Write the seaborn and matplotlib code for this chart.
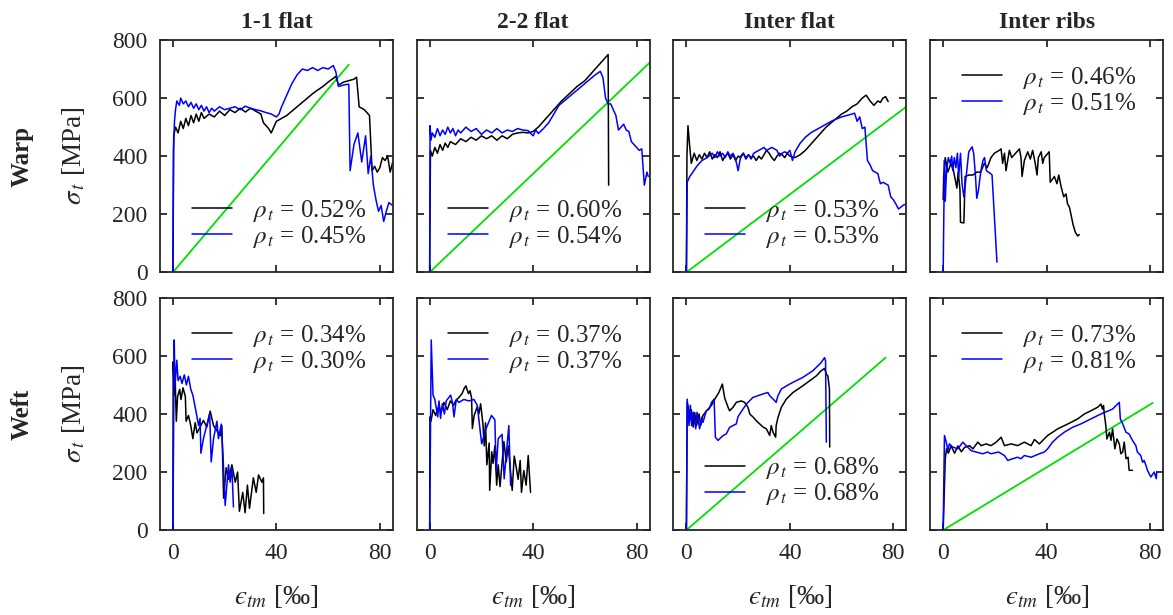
"""Tensile stress-strain curves of textile reinforcement: warp / weft, four yarn positions."""
import matplotlib
matplotlib.use("Agg")

import matplotlib.pyplot as plt
import numpy as np
import pandas as pd
import seaborn as sns

COLUMNS = ["1-1 flat", "2-2 flat", "Inter flat", "Inter ribs"]
ROWS = ["Warp", "Weft"]
X_TICKS = [0, 40, 80]
Y_TICKS = [0, 200, 400, 600, 800]

# ---------------------------------------------------------------------------
# Curves, (strain [permille], stress [MPa])
# ---------------------------------------------------------------------------

# Warp, 1-1 flat
warp_11_black = [
    (0, 0), (0.3, 470), (1, 500), (2, 480), (3, 520), (4, 495), (5, 530), (6, 505),
    (7, 540), (8, 515), (9, 545), (10, 520), (11, 550), (12, 530), (14, 545), (16, 535),
    (18, 555), (20, 540), (22, 560), (24, 550), (26, 565), (28, 552), (30, 565), (32, 555),
    (34, 545), (35, 515), (36, 505), (37, 495), (38, 480), (39, 500), (40, 520), (42, 530),
    (44, 540), (46, 555), (48, 570), (50, 585), (52, 600), (54, 615), (56, 628), (58, 640),
    (60, 655), (62, 668), (63, 675), (64, 645), (66, 655), (68, 660), (70, 665), (71, 672),
    (72, 570), (73, 565), (74, 560), (75, 550), (76, 540), (77, 350), (78, 365), (79, 345),
    (80, 360), (81, 395), (82, 385), (83, 400), (84, 345), (85, 380),
]
warp_11_blue = [
    (0, 0), (0.2, 420), (0.6, 520), (1, 560), (1.5, 590), (2.5, 575), (3, 600), (4, 580),
    (5, 590), (6, 570), (7, 585), (8, 565), (9, 580), (10, 560), (11, 575), (12, 555),
    (13, 570), (14, 550), (15, 565), (16, 555), (18, 570), (20, 560), (22, 565), (24, 570),
    (26, 560), (28, 572), (30, 565), (32, 560), (34, 556), (36, 550), (38, 545), (40, 535),
    (41, 545), (42, 570), (44, 610), (46, 650), (48, 680), (50, 700), (52, 695), (54, 705),
    (56, 695), (58, 705), (60, 700), (62, 712), (63, 690), (64, 640), (66, 645), (68, 648),
    (68.5, 350), (70, 440), (71.5, 480), (73, 380), (74.5, 470), (75.5, 340), (76.5, 400),
    (77.5, 300), (78.5, 250), (79.5, 210), (80.5, 230), (81.5, 175), (82.5, 210),
    (83.5, 240), (85, 230),
]
warp_11_green = [(0, 0), (68, 715)]

# Warp, 2-2 flat
warp_22_black = [
    (0, 0), (0.3, 420), (1, 400), (2, 430), (3, 410), (4, 440), (5, 420), (6, 445),
    (7, 430), (8, 450), (10, 440), (12, 460), (14, 450), (16, 465), (18, 455), (20, 470),
    (22, 460), (24, 470), (26, 455), (28, 470), (30, 460), (32, 475), (34, 480), (36, 482),
    (38, 480), (40, 485), (42, 500), (45, 530), (48, 560), (51, 590), (54, 615), (57, 640),
    (60, 660), (63, 690), (66, 720), (69, 750), (69.2, 300),
]
warp_22_blue = [
    (0, 0), (0.15, 505), (0.5, 455), (1, 480), (2, 465), (3, 495), (4, 470), (5, 490),
    (6, 475), (7, 500), (8, 480), (9, 495), (10, 470), (11, 490), (12, 480), (14, 500),
    (16, 485), (18, 495), (20, 475), (22, 490), (24, 480), (26, 495), (28, 480), (30, 490),
    (32, 485), (34, 495), (36, 490), (38, 488), (40, 470), (41, 490), (42, 478), (44, 495),
    (46, 515), (48, 545), (50, 575), (52, 590), (54, 605), (56, 620), (58, 635), (60, 650),
    (62, 665), (64, 680), (66, 692), (67, 670), (68, 600), (69, 580), (70, 580), (71, 560),
    (72, 540), (73, 490), (74, 500), (75, 510), (76, 490), (77, 485), (78, 450), (79, 440),
    (80, 430), (81, 420), (82, 425), (83, 300), (84, 345), (84.5, 330),
]
warp_22_green = [(0, 0), (86, 730)]

# Warp, inter flat
warp_if_black = [
    (0, 0), (0.2, 400), (0.6, 505), (1.2, 440), (1.9, 375), (3, 410), (4, 385), (5, 405),
    (6, 390), (7, 410), (8, 395), (9, 415), (10, 390), (11, 405), (12, 395), (13, 415),
    (14, 385), (15, 400), (16, 410), (17, 390), (18, 405), (19, 385), (20, 400), (21, 395),
    (22, 410), (23, 390), (24, 405), (25, 395), (26, 400), (27, 385), (28, 400), (29, 390),
    (30, 405), (31, 420), (32, 410), (33, 395), (34, 385), (35, 400), (36, 410), (37, 405),
    (38, 395), (39, 410), (40, 400), (42, 395), (44, 405), (46, 420), (48, 440), (50, 460),
    (52, 480), (54, 500), (56, 515), (58, 530), (60, 545), (62, 555), (64, 570), (66, 580),
    (68, 600), (69.5, 610), (71, 590), (72.5, 575), (74, 590), (75, 585), (76, 600),
    (77, 605), (78, 588),
]
warp_if_blue = [
    (0, 0), (0.3, 310), (1.3, 330), (2.5, 345), (4, 365), (6, 385), (8, 395), (10, 410),
    (11, 395), (12, 415), (13, 400), (14, 410), (15, 395), (16, 415), (17, 400), (18, 410),
    (19, 390), (20, 350), (21, 400), (22, 410), (23, 395), (24, 405), (25, 390), (26, 410),
    (27, 415), (28, 420), (29, 425), (30, 430), (31, 420), (32, 425), (33, 430), (34, 425),
    (35, 420), (36, 400), (37, 410), (38, 415), (39, 410), (40, 420), (41, 385), (42, 415),
    (43, 430), (44, 445), (46, 465), (48, 480), (50, 490), (52, 500), (54, 510), (56, 520),
    (58, 528), (60, 535), (62, 540), (64, 545), (65, 548), (66, 520), (67, 535), (68, 495),
    (69, 500), (70, 385), (71, 370), (72, 350), (73, 345), (74, 340), (75, 305), (76, 310),
    (77, 305), (78, 300), (79, 260), (80, 250), (81, 235), (82, 218), (83, 225), (84, 232),
    (85, 235),
]
warp_if_green = [(0, 0), (85, 570)]

# Warp, inter ribs
warp_ir_black = [
    (0, 250), (0.2, 330), (0.8, 395), (1.8, 345), (3, 375), (4, 350), (5.3, 290), (5.8, 345),
    (6.5, 285), (6.7, 172), (8, 170), (8.5, 330), (10, 335), (11.5, 335), (13, 345),
    (14.5, 345), (15.9, 375), (17, 360), (18.5, 395), (19.8, 410), (21.7, 420), (22.4, 425),
    (23, 375), (23.7, 410), (24.3, 350), (25.6, 420), (26.5, 395), (29.5, 425), (30.1, 395),
    (30.5, 330), (31.4, 385), (32.7, 415), (33.7, 390), (34.6, 420), (35.6, 375),
    (36.3, 335), (36.8, 395), (37.9, 415), (38.5, 375), (39.1, 395), (41, 415), (41.4, 310),
    (43, 330), (44, 305), (44.7, 335), (45.6, 295), (46.6, 260), (47.5, 270), (48.1, 235),
    (48.8, 225), (49.4, 200), (50.2, 165), (51.1, 138), (52, 125), (52.6, 130),
]
warp_ir_blue = [
    (0, 0), (0.5, 385), (0.8, 245), (1.3, 350), (2, 395), (2.7, 375), (3.3, 400), (3.7, 350),
    (4.3, 395), (4.9, 360), (5.5, 410), (6, 330), (6.7, 410), (7.3, 305), (8, 260),
    (8.9, 330), (9.9, 415), (11.2, 432), (11.8, 410), (12.5, 330), (13, 255), (13.6, 280),
    (14.3, 330), (14.9, 365), (15.4, 385), (16, 395), (16.7, 350), (18.3, 340),
    (18.9, 335), (20.8, 35),
]
warp_ir_green = []

# Weft, 1-1 flat
weft_11_black = [
    (0, 0), (0.1, 580), (0.5, 465), (0.9, 510), (1.3, 375), (1.8, 460), (2.6, 485),
    (3.1, 450), (3.9, 490), (4.8, 460), (5.1, 375), (6, 395), (6.9, 360), (7.7, 315),
    (8.6, 370), (9.3, 335), (10.5, 355), (11.8, 378), (13.1, 355), (14.4, 410), (15.7, 360),
    (18.3, 325), (18.9, 360), (19.6, 110), (20.6, 215), (21.5, 175), (22.8, 225),
    (24.1, 165), (25, 200), (25.7, 65), (27, 130), (27.9, 60), (28.8, 155), (29.6, 75),
    (31.1, 180), (32.2, 130), (33.1, 190), (34.4, 165), (35, 180), (35.1, 57),
]
weft_11_blue = [
    (0, 0), (0.5, 655), (0.8, 495), (1.5, 585), (2, 515), (2.8, 530), (3.5, 505), (4.4, 535),
    (5.2, 500), (6, 530), (6.9, 485), (7.7, 465), (9, 405), (9.9, 360), (10.5, 385),
    (10.8, 265), (11.8, 315), (12.9, 355), (14.2, 400), (14.8, 235), (15.7, 315),
    (17, 375), (17.6, 315), (18.7, 365), (19.3, 270), (20.2, 85), (21.5, 225), (22.1, 165),
    (22.8, 215), (23.4, 80),
]
weft_11_green = []

# Weft, 2-2 flat
weft_22_black = [
    (0, 0), (0.1, 390), (0.5, 375), (1.3, 415), (2.3, 395), (3.6, 430), (4.4, 405),
    (5.5, 440), (6.8, 415), (8, 445), (9.3, 430), (10, 445), (11.3, 457), (12.5, 470),
    (13.3, 487), (14, 497), (15, 470), (15.6, 480), (16.2, 455), (16.5, 350), (17.2, 395),
    (18.4, 425), (19, 400), (19.7, 435), (20.6, 365), (21.1, 290), (21.6, 370), (22.1, 225),
    (23, 300), (23.2, 137), (24, 270), (24.5, 230), (25.2, 290), (25.9, 155), (26.5, 225),
    (27.2, 150), (28.7, 305), (29.6, 235), (30.4, 290), (31.9, 137), (32.7, 255),
    (33.4, 220), (34.2, 175), (35, 240), (35.5, 130), (36.4, 205), (37.3, 155),
    (38.1, 257), (39, 130),
]
weft_22_blue = [
    (0, 0), (0.6, 655), (1.3, 465), (2, 450), (3.1, 390), (3.6, 445), (4.2, 385), (4.9, 435),
    (5.7, 400), (6.4, 445), (8.1, 465), (8.8, 440), (9.4, 390), (10.3, 450), (11.3, 440),
    (13.2, 450), (15.2, 445), (17.1, 450), (18.4, 430), (19.3, 360), (20.1, 297),
    (21.6, 345), (23.9, 395), (25.2, 380), (25.7, 205), (26.5, 315), (28, 330), (28.8, 177),
    (29.7, 270), (30.6, 360), (31.3, 154),
]
weft_22_green = []

# Weft, inter flat
weft_if_black = [
    (0, 0), (0.3, 440), (1, 410), (1.5, 380), (1.9, 415), (2.6, 355), (3.2, 405), (3.9, 360),
    (4.9, 400), (5.5, 360), (6.4, 395), (7.7, 410), (9.7, 430), (10.9, 450), (12.6, 475),
    (13.9, 503), (14.8, 455), (16.1, 423), (16.7, 411), (18, 423), (19.3, 440), (21.2, 445),
    (22.5, 440), (23.8, 423), (24.5, 400), (25.7, 390), (27, 377), (28.3, 366), (29.6, 355),
    (30.9, 349), (32.2, 326), (32.8, 360), (33.5, 337), (34.5, 320), (34.7, 360),
    (35.4, 388), (36.7, 423), (38.6, 451), (41.2, 474), (45, 497), (47.6, 514), (50.2, 531),
    (52.1, 549), (53.4, 557), (54.1, 537), (54.7, 531), (55.3, 486), (55.4, 286),
]
weft_if_blue = [
    (0, 0), (0.3, 451), (1, 360), (1.5, 430), (2, 360), (2.6, 406), (3.6, 349), (4.1, 406),
    (5.1, 349), (5.9, 389), (6.4, 371), (7.7, 411), (8.8, 417), (9.7, 440), (10.7, 451),
    (11.2, 320), (12.2, 309), (14.2, 326), (15.4, 331), (16.7, 354), (18, 360), (19.3, 366),
    (19.9, 389), (20.6, 400), (23.2, 434), (24.5, 446), (25.7, 457), (29.6, 469),
    (31.5, 474), (32.2, 463), (34.1, 446), (34.7, 440), (35.4, 463), (36.7, 486),
    (39.9, 503), (45, 526), (48.9, 549), (52.1, 577), (53.4, 594), (53.8, 583), (54.1, 303),
]
weft_if_green = [(0, 0), (77, 594)]

# Weft, inter ribs
weft_ir_black = [
    (0, 0), (0.8, 245), (1.3, 280), (2, 265), (3.1, 290), (4.4, 265), (5.7, 290), (7, 270),
    (8.3, 285), (10.2, 291), (11.5, 280), (13.4, 303), (14.7, 291), (16.6, 297),
    (18.5, 291), (20.5, 303), (22.4, 320), (23.7, 291), (26.3, 297), (28.8, 291),
    (31.4, 303), (34, 291), (35.3, 312), (37.2, 297), (38.5, 309), (40.4, 326), (42.3, 337),
    (44.3, 349), (46.9, 360), (49.4, 371), (52, 383), (54.6, 400), (57.1, 411), (59.7, 423),
    (61, 434), (61.6, 417), (62, 429), (62.3, 400), (62.9, 360), (63.3, 314), (64.3, 337),
    (64.9, 309), (65.5, 349), (66.4, 280), (67.2, 314), (68.1, 297), (68.7, 263),
    (69.4, 269), (70, 303), (70.7, 246), (71.5, 251), (71.9, 206), (73.2, 206),
]
weft_ir_blue = [
    (0, 0), (0.5, 326), (1.2, 303), (1.8, 274), (2.4, 297), (3.7, 286), (5.7, 280),
    (7.6, 303), (8.9, 291), (10.8, 274), (12.7, 269), (15.3, 263), (17.2, 269), (18.5, 263),
    (21.4, 269), (23.7, 257), (25, 240), (26.9, 246), (28.8, 251), (30.1, 246), (31.4, 257),
    (34, 251), (37.2, 263), (39.1, 269), (40.4, 280), (42.3, 303), (44.3, 320), (46.8, 337),
    (50, 354), (53.3, 366), (57.1, 383), (61, 400), (65.5, 417), (68.1, 440), (68.5, 383),
    (69.4, 366), (70.7, 337), (71.9, 331), (73.2, 309), (74.5, 291), (75.1, 269),
    (76.4, 257), (77.1, 234), (77.7, 240), (78.4, 223), (79, 206), (80.3, 183), (81.6, 200),
    (82.4, 177), (82.6, 200),
]
weft_ir_green = [(0, 0), (81, 438)]

# reinforcement ratios shown in the legends (black, blue)
RHO_WARP = [("0.52", "0.45"), ("0.60", "0.54"), ("0.53", "0.53"), ("0.46", "0.51")]
RHO_WEFT = [("0.34", "0.30"), ("0.37", "0.37"), ("0.68", "0.68"), ("0.73", "0.81")]
# legend placement per panel: "low" or "high"
LEGEND_POS_WARP = ["low", "low", "low", "high"]
LEGEND_POS_WEFT = ["high", "high", "low", "high"]

PANELS = {
    (0, 0): (warp_11_black, warp_11_blue, warp_11_green),
    (0, 1): (warp_22_black, warp_22_blue, warp_22_green),
    (0, 2): (warp_if_black, warp_if_blue, warp_if_green),
    (0, 3): (warp_ir_black, warp_ir_blue, warp_ir_green),
    (1, 0): (weft_11_black, weft_11_blue, weft_11_green),
    (1, 1): (weft_22_black, weft_22_blue, weft_22_green),
    (1, 2): (weft_if_black, weft_if_blue, weft_if_green),
    (1, 3): (weft_ir_black, weft_ir_blue, weft_ir_green),
}

AX_COLOR = "#262626"
FS = 17
LABEL_FS = 19.5


def to_frame(points):
    arr = np.array(points, dtype=float)
    return pd.DataFrame({"strain": arr[:, 0], "stress": arr[:, 1]})


sns.set_theme(style="ticks")
plt.rcParams["font.family"] = ["Liberation Serif", "DejaVu Serif"]
plt.rcParams["mathtext.fontset"] = "stix"
plt.rcParams["axes.edgecolor"] = AX_COLOR
plt.rcParams["axes.linewidth"] = 1.3

fig, axes = plt.subplots(2, 4, figsize=(11.73, 6.15), dpi=100)
fig.subplots_adjust(left=160 / 1173, right=1163 / 1173, bottom=0.138, top=1 - 40 / 615,
                    wspace=0.103, hspace=0.11)

for (r, c), (black, blue, green) in PANELS.items():
    ax = axes[r, c]
    rho = RHO_WARP[c] if r == 0 else RHO_WEFT[c]
    pos = LEGEND_POS_WARP[c] if r == 0 else LEGEND_POS_WEFT[c]

    if green:
        g = to_frame(green)
        sns.lineplot(data=g, x="strain", y="stress", color="#00e000", lw=1.3,
                     sort=False, estimator=None, ax=ax, legend=False)
    b = to_frame(black)
    sns.lineplot(data=b, x="strain", y="stress", color="black", lw=1.1, sort=False,
                 estimator=None, ax=ax, label=rf"$\rho_{{\,t}}$ = {rho[0]}%")
    u = to_frame(blue)
    sns.lineplot(data=u, x="strain", y="stress", color="#0000ff", lw=1.1, sort=False,
                 estimator=None, ax=ax, label=rf"$\rho_{{\,t}}$ = {rho[1]}%")

    ax.set_xlim(-5, 85)
    ax.set_ylim(0, 800)
    ax.set_xticks(X_TICKS)
    ax.set_yticks(Y_TICKS)
    ax.tick_params(direction="in", top=True, right=True, length=5, width=1.3,
                   labelsize=FS, colors=AX_COLOR, labelcolor=AX_COLOR)
    ax.tick_params(axis="y", pad=9)
    ax.tick_params(axis="x", pad=9)
    for s in ax.spines.values():
        s.set_visible(True)

    anchor = (0.51, 0.21) if pos == "low" else (0.51, 0.78)
    ax.legend(loc="center", bbox_to_anchor=anchor, frameon=False, fontsize=FS + 1,
              handlelength=1.6, handletextpad=0.8, labelspacing=0.0, borderpad=0)

    if r == 0:
        ax.set_title(COLUMNS[c], fontsize=FS, fontweight="bold", pad=9)
        ax.set_xticklabels([])
        ax.set_xlabel("")
    else:
        ax.set_xlabel("$ϵ_{tm}$ [‰]", fontsize=LABEL_FS, labelpad=14)
    if c == 0:
        ax.set_ylabel(r"$\sigma_{\,t}$ [MPa]", fontsize=LABEL_FS, labelpad=18)
    else:
        ax.set_yticklabels([])
        ax.set_ylabel("")

for r, name in enumerate(ROWS):
    ax = axes[r, 0]
    box = ax.get_position()
    fig.text(22 / 1173, box.y0 + box.height / 2, name, rotation=90, ha="center",
             va="center", fontsize=FS + 1, fontweight="bold")

fig.savefig("out.png", dpi=100)
